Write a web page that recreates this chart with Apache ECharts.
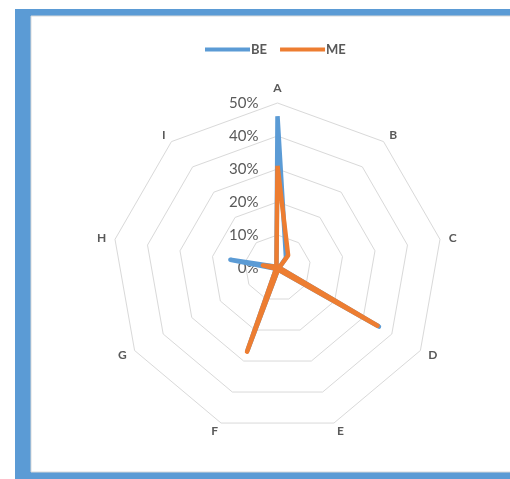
<!DOCTYPE html>
<html>
<head>
<meta charset="utf-8">
<script src="https://cdn.jsdelivr.net/npm/echarts@6/dist/echarts.min.js"></script>
<style>
  html, body { margin: 0; padding: 0; background: #ffffff; }
  #chart { width: 510px; height: 479px; }
</style>
</head>
<body>
<div id="chart"></div>
<script>
// Radar axes, listed clockwise from the top
const categories = ['A', 'B', 'C', 'D', 'E', 'F', 'G', 'H', 'I'];
const seriesNames = ['BE', 'ME'];
// Shares in percent, one value per category
const beValues = [46, 4, 0.5, 35.5, 0.5, 26.5, 0.5, 14.5, 0.5];
const meValues = [31, 5, 0.5, 35, 0.5, 27, 0.5, 4.5, 0.5];
// Ring scale
const tickMin = 0;
const tickMax = 50;
const tickStep = 10;

const CENTER = [277.5, 268];
const RADIUS = 165;
const TEXT = '#595959';
const FONT = 'Lato, "Liberation Sans", sans-serif';

// ECharts lays radar indicators out counter-clockwise; keep the first axis
// on top and reverse the rest so the letters run clockwise.
const order = [0].concat(categories.map((_, i) => i).slice(1).reverse());
const pick = arr => order.map(i => arr[i]);

const chart = echarts.init(document.getElementById('chart'), null, { renderer: 'canvas' });

chart.setOption({
  animation: false,
  backgroundColor: '#ffffff',
  graphic: [
    { type: 'rect', z: -10, silent: true,
      shape: { x: 15, y: 9, width: 510, height: 480 },
      style: { fill: '#5b9bd5' } },
    { type: 'rect', z: -9, silent: true,
      shape: { x: 31, y: 16, width: 500, height: 456 },
      style: { fill: '#ffffff', stroke: '#d9d9d9', lineWidth: 1 } }
  ],
  legend: {
    top: 38,
    left: 200,
    itemWidth: 45,
    itemHeight: 4,
    itemGap: 13,
    icon: 'rect',
    data: seriesNames,
    textStyle: { color: TEXT, fontSize: 13, fontWeight: 'bold', fontFamily: FONT, padding: [0, 0, 0, -4] }
  },
  radar: {
    center: CENTER,
    radius: RADIUS,
    startAngle: 90,
    shape: 'polygon',
    splitNumber: (tickMax - tickMin) / tickStep,
    nameGap: 9,
    indicator: pick(categories).map(name => ({ name: name, min: tickMin, max: tickMax })),
    axisName: { color: TEXT, fontSize: 12, fontWeight: 'bold', fontFamily: FONT },
    axisLine: { show: false },
    splitLine: { lineStyle: { color: '#d9d9d9', width: 1 } },
    splitArea: { show: false }
  },
  polar: { center: CENTER, radius: RADIUS },
  angleAxis: { type: 'value', startAngle: 90, min: 0, max: 360, show: false },
  radiusAxis: {
    type: 'value',
    min: tickMin,
    max: tickMax,
    interval: tickStep,
    axisLine: { show: false },
    axisTick: { show: false },
    splitLine: { show: false },
    axisLabel: {
      margin: 19,
      color: TEXT,
      fontSize: 15,
      fontFamily: FONT,
      formatter: v => v + '%'
    }
  },
  series: [{
    type: 'radar',
    symbol: 'none',
    data: [
      { name: seriesNames[0], value: pick(beValues),
        lineStyle: { color: '#5b9bd5', width: 4.5 }, itemStyle: { color: '#5b9bd5' } },
      { name: seriesNames[1], value: pick(meValues),
        lineStyle: { color: '#ed7d31', width: 4.5 }, itemStyle: { color: '#ed7d31' } }
    ]
  }]
});
</script>
</body>
</html>
